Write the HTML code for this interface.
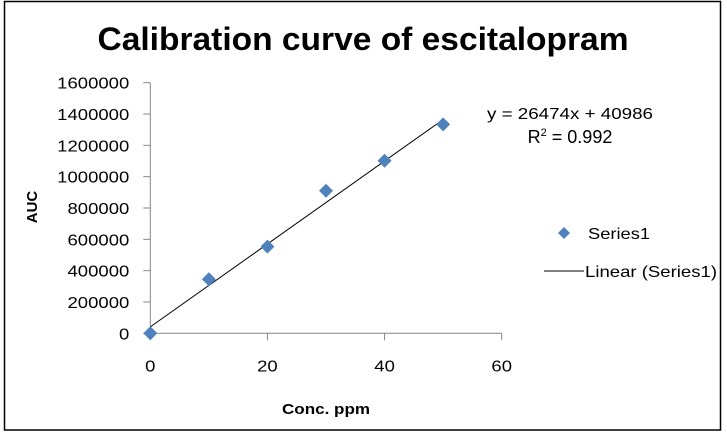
<!DOCTYPE html>
<html><head><meta charset="utf-8"><style>
html,body{margin:0;padding:0;background:#fff;}
svg{display:block;font-family:"Liberation Sans",sans-serif;}
</style></head><body>
<svg id="chart" width="727" height="435">
<rect x="4.5" y="1.5" width="716" height="428.5" fill="#fff" stroke="#000" stroke-width="1.5"/>
<text x="363" y="50" text-anchor="middle" font-size="32" font-weight="bold" textLength="531" lengthAdjust="spacingAndGlyphs">Calibration curve  of escitalopram</text>
<text transform="translate(37,207) rotate(-90)" text-anchor="middle" font-size="15" font-weight="bold">AUC</text>
<text x="326" y="414" text-anchor="middle" font-size="15" font-weight="bold" textLength="88" lengthAdjust="spacingAndGlyphs">Conc. ppm</text>
<g id="axes"></g>
<g id="marks"></g>
<text x="570" y="119" text-anchor="middle" font-size="16" textLength="166" lengthAdjust="spacingAndGlyphs">y = 26474x + 40986</text>
<text x="570" y="143" text-anchor="middle" font-size="18">R<tspan font-size="11" dy="-7">2</tspan><tspan dy="7"> = 0.992</tspan></text>
<g>
<path d="M564 227 L570 233 L564 239 L558 233 Z" fill="#4f81bd"/>
<text x="588" y="239" font-size="16" textLength="62" lengthAdjust="spacingAndGlyphs">Series1</text>
<line x1="544" y1="271" x2="584" y2="271" stroke="#000"/>
<text x="585" y="277" font-size="16" textLength="132" lengthAdjust="spacingAndGlyphs">Linear (Series1)</text>
</g>
</svg>
<script>
const xValues=[0,10,20,30,40,50];
const yValues=[0,345000,553000,910000,1102000,1334000];
const xTicks=[0,20,40,60];
const yTicks=[0,200000,400000,600000,800000,1000000,1200000,1400000,1600000];
const slope=26474, intercept=40986;
const X0=150.3,X1=501.7,Y0=333.3,Y1=82.7;
const xs=v=>X0+(v/60)*(X1-X0);
const ys=v=>Y0-(v/1600000)*(Y0-Y1);
const NS="http://www.w3.org/2000/svg";
const axes=document.getElementById('axes'),marks=document.getElementById('marks');
function mk(tag,attrs,parent){const e=document.createElementNS(NS,tag);for(const k in attrs)e.setAttribute(k,attrs[k]);parent.appendChild(e);return e;}
let l=mk('line',{x1:X0,y1:Y1,x2:X0,y2:Y0,stroke:'#868686'},axes);


l=mk('line',{x1:X0,y1:Y0,x2:X1,y2:Y0,stroke:'#868686'},axes);


yTicks.forEach(v=>{
 const t=mk('line',{x1:X0-7,y1:ys(v),x2:X0,y2:ys(v),stroke:'#868686'},axes);
 
 
 const s=String(v);
 const tx=mk('text',{x:X0-21,y:ys(v)+6,'text-anchor':'end','font-size':'16',textLength:(s.length*10.3).toFixed(1),lengthAdjust:'spacingAndGlyphs'},axes);
 tx.textContent=s;
 
 
});
xTicks.forEach(v=>{
 const t=mk('line',{x1:xs(v),y1:Y0,x2:xs(v),y2:Y0+7,stroke:'#868686'},axes);
 
 
 const s=String(v);
 const tx=mk('text',{x:xs(v),y:Y0+38,'text-anchor':'middle','font-size':'16',textLength:(s.length*10.3).toFixed(1),lengthAdjust:'spacingAndGlyphs'},axes);
 tx.textContent=s;
 
 
});
const tl=mk('line',{x1:xs(0),y1:ys(intercept),x2:xs(50),y2:ys(slope*50+intercept),stroke:'#000','stroke-width':'1'},marks);


xValues.forEach((xv,i)=>{
 const cx=xs(xv),cy=ys(yValues[i]);
 const p=mk('path',{d:`M${cx} ${cy-7}L${cx+7} ${cy}L${cx} ${cy+7}L${cx-7} ${cy}Z`,fill:'#4f81bd'},marks);
 
 
});
</script>
</body></html>
